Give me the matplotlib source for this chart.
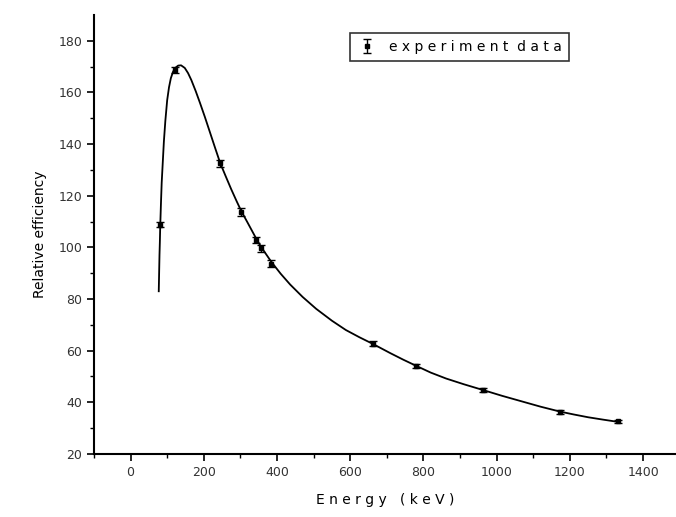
import numpy as np
import matplotlib.pyplot as plt

# experiment data (keV, relative efficiency)
energy = [81, 122, 244, 303, 344, 356, 384, 662, 779, 964, 1173, 1332]
efficiency = [108.7, 168.8, 132.6, 113.7, 102.8, 99.7, 93.7, 62.7, 53.9, 44.9, 36.2, 32.6]
efficiency_err = [1.0, 1.2, 1.3, 1.4, 1.3, 1.3, 1.3, 1.0, 0.8, 0.8, 0.8, 0.7]

# fitted curve
fit_energy = [77, 78, 79, 80, 81, 83, 85, 88, 91, 95, 100, 105, 110, 116, 122, 130, 138,
              148, 157, 166, 178, 190, 203, 217, 231, 245, 260, 275, 290, 303, 320, 344,
              356, 384, 410, 436, 470, 507, 550, 588, 625, 662, 710, 745, 779, 820, 862,
              910, 964, 1015, 1065, 1120, 1173, 1210, 1250, 1290, 1332]
fit_eff = [83, 90, 97, 102, 108, 117, 125, 133, 141, 149, 157, 162, 165.5, 168, 169.5,
           170.4, 170.5, 169.5, 167.5, 164.8, 160.5, 155.8, 150.5, 144.5, 138.5, 132.6,
           127.5, 122.5, 117.8, 113.9, 109.5, 103.2, 100.3, 94.5, 89.8, 85.6, 80.8, 76.2,
           71.6, 68.0, 65.2, 62.6, 59.0, 56.5, 54.2, 51.5, 49.2, 47.0, 44.7, 42.5, 40.5,
           38.3, 36.4, 35.3, 34.2, 33.3, 32.4]

fig = plt.figure(figsize=(6.76, 5.17), dpi=100)
ax = fig.add_axes([0.139, 0.122, 0.861, 0.849])

ax.plot(fit_energy, fit_eff, color="black", lw=1.3)
ax.errorbar(energy, efficiency, yerr=efficiency_err, fmt="s", ms=3.5, color="black",
            ecolor="black", elinewidth=1, capsize=3, label="experiment data")

ax.set_xlim(-95, 1490)
ax.set_ylim(20, 190)
ax.set_xticks(np.arange(0, 1401, 200))
ax.set_xticks(np.arange(-100, 1401, 100), minor=True)
ax.set_yticks(np.arange(20, 181, 20))
ax.set_yticks(np.arange(20, 190, 10), minor=True)

for s in ["top", "right"]:
    ax.spines[s].set_visible(False)
for s in ["left", "bottom"]:
    ax.spines[s].set_linewidth(1.5)

ax.tick_params(which="major", direction="out", length=5, width=1.2, labelsize=9,
               colors="black", labelcolor="#333333")
ax.tick_params(which="minor", direction="out", length=3, width=1)

ax.set_xlabel("E n e r g y   ( k e V )", fontsize=10, labelpad=10)
ax.set_ylabel("Relative efficiency", fontsize=10, labelpad=8)

leg = ax.legend(loc="upper left", bbox_to_anchor=(0.428, 0.975), frameon=True,
                fancybox=False, handlelength=1.5, borderpad=0.5, prop={"size": 10})
leg.get_frame().set_edgecolor("black")
leg.get_frame().set_linewidth(1.2)
leg.get_texts()[0].set_text("e x p e r i m e n t  d a t a")

fig.savefig("out.png", dpi=100)
